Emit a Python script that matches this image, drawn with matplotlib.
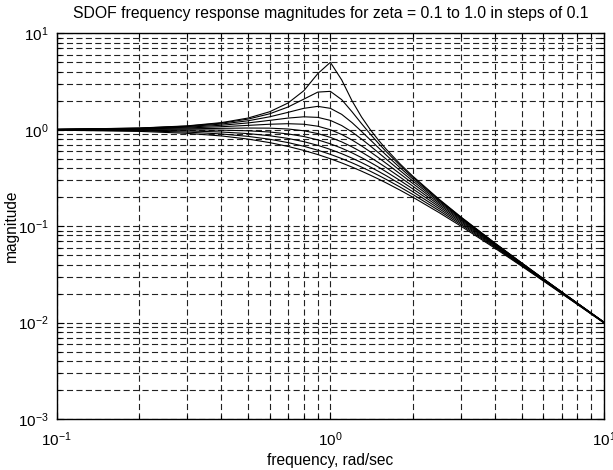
import matplotlib
matplotlib.use("Agg")
import matplotlib.pyplot as plt
from matplotlib.ticker import LogLocator, NullFormatter

plt.rcParams['font.family'] = ['Liberation Sans', 'DejaVu Sans']
plt.rcParams['mathtext.default'] = 'regular'

title = "SDOF frequency response magnitudes for zeta = 0.1 to 1.0 in steps of 0.1"
xlabel = "frequency, rad/sec"
ylabel = "magnitude"

zetas = [0.1, 0.2, 0.3, 0.4, 0.5, 0.6, 0.7, 0.8, 0.9, 1.0]

freq = [0.1, 0.2, 0.3, 0.4, 0.5, 0.6, 0.7, 0.8, 0.9, 1.0, 1.1, 1.2, 1.3,
        1.4, 1.5, 1.6, 1.8, 2.0, 2.5, 3.0, 4.0, 5.0, 6.0, 8.0, 10.0]

mag_z01 = [1.0099, 1.0408, 1.0965, 1.1851, 1.3216, 1.5357, 1.8908, 2.5384, 3.8208, 5.0,
           3.2880, 1.9952, 1.3562, 1.0, 0.7779, 0.6279, 0.4408, 0.3304, 0.1896, 0.12465,
           0.06657, 0.04163, 0.02855, 0.015868, 0.010099]
mag_z02 = [1.0093, 1.0381, 1.0895, 1.1695, 1.2883, 1.4630, 1.7188, 2.0761, 2.4566, 2.5,
           2.0511, 1.5357, 1.1574, 0.8998, 0.7212, 0.5931, 0.4250, 0.3221, 0.1871, 0.12362,
           0.06629, 0.04152, 0.02850, 0.015853, 0.010093]
mag_z03 = [1.0083, 1.0336, 1.0780, 1.1447, 1.2380, 1.3618, 1.5136, 1.6667, 1.7469, 1.6667,
           1.4438, 1.1851, 0.9603, 0.7839, 0.6492, 0.5459, 0.4021, 0.3095, 0.1831, 0.12195,
           0.06583, 0.04134, 0.02842, 0.015827, 0.010083]
mag_z04 = [1.0068, 1.0275, 1.0626, 1.1125, 1.1765, 1.25, 1.3203, 1.3618, 1.3429, 1.25,
           1.1053, 0.9469, 0.8012, 0.6779, 0.5771, 0.4956, 0.3755, 0.2941, 0.1780, 0.11973,
           0.06520, 0.04110, 0.02831, 0.015792, 0.010068]
mag_z05 = [1.0050, 1.0198, 1.0436, 1.0748, 1.1094, 1.1399, 1.1546, 1.1399, 1.0871, 1.0,
           0.8930, 0.7824, 0.6795, 0.5891, 0.5121, 0.4475, 0.3480, 0.2774, 0.1720, 0.11704,
           0.06442, 0.04079, 0.02816, 0.015747, 0.010050]
mag_z06 = [1.0028, 1.0106, 1.0218, 1.0336, 1.0412, 1.0381, 1.0176, 0.9753, 0.9119, 0.8333,
           0.7482, 0.6641, 0.5862, 0.5168, 0.4563, 0.4042, 0.3214, 0.2603, 0.1654, 0.11399,
           0.06350, 0.04042, 0.02799, 0.015692, 0.010028]
mag_z07 = [1.0002, 1.0, 0.9978, 0.9905, 0.9747, 0.9469, 0.9052, 0.8500, 0.7848, 0.7143,
           0.6434, 0.5758, 0.5138, 0.4582, 0.4092, 0.3663, 0.2966, 0.2437, 0.1585, 0.11067,
           0.06246, 0.04, 0.02778, 0.015628, 0.010002]
mag_z08 = [0.9972, 0.9882, 0.9720, 0.9469, 0.9119, 0.8667, 0.8126, 0.7521, 0.6885, 0.625,
           0.5642, 0.5077, 0.4563, 0.4103, 0.3696, 0.3336, 0.2741, 0.2280, 0.1515, 0.10719,
           0.06132, 0.03953, 0.02755, 0.015555, 0.009972]
mag_z09 = [0.9938, 0.9753, 0.9450, 0.9039, 0.8536, 0.7966, 0.7357, 0.6737, 0.6131, 0.5556,
           0.5022, 0.4537, 0.4099, 0.3708, 0.3361, 0.3053, 0.2539, 0.2134, 0.1446, 0.10361,
           0.06010, 0.03901, 0.02730, 0.015474, 0.009938]
mag_z10 = [0.9901, 0.9615, 0.9174, 0.8621, 0.8, 0.7353, 0.6711, 0.6098, 0.5525, 0.5,
           0.4525, 0.4098, 0.3717, 0.3378, 0.3077, 0.2809, 0.2358, 0.2, 0.1379, 0.1,
           0.05882, 0.03846, 0.02703, 0.015385, 0.009901]

mags = [mag_z01, mag_z02, mag_z03, mag_z04, mag_z05,
        mag_z06, mag_z07, mag_z08, mag_z09, mag_z10]

fig = plt.figure(figsize=(6.13, 4.70), dpi=100)
ax = fig.add_axes([56.7 / 613, 1 - 419 / 470, (604 - 56.7) / 613, (419 - 33.3) / 470])

for z, m in zip(zetas, mags):
    ax.plot(freq, m, color='black', lw=0.8)

ax.set_xscale('log')
ax.set_yscale('log')
ax.set_xlim(0.1, 10)
ax.set_ylim(1e-3, 10)

ax.xaxis.set_minor_locator(LogLocator(base=10, subs=range(2, 10)))
ax.yaxis.set_minor_locator(LogLocator(base=10, subs=range(2, 10)))
ax.xaxis.set_minor_formatter(NullFormatter())
ax.yaxis.set_minor_formatter(NullFormatter())

grid_kw = dict(color='#222222', linestyle=(0, (5.5, 3)), linewidth=0.8)
ax.grid(True, which='major', **grid_kw)
ax.grid(True, which='minor', **grid_kw)

ax.tick_params(which='both', direction='in', top=True, right=True, labelsize=11, colors='black')
ax.tick_params(which='major', length=5, width=0.8)
ax.tick_params(which='minor', length=3, width=0.8)
ax.tick_params(axis='x', pad=8)
ax.tick_params(axis='y', pad=6)
for s in ax.spines.values():
    s.set_linewidth(1.0)
    s.set_color('black')

ax.set_title(title, fontsize=11.3, pad=11)
ax.set_xlabel(xlabel, fontsize=11.2, labelpad=3)
ax.set_ylabel(ylabel, fontsize=11.2)
ax.yaxis.set_label_coords(-0.069, 0.5)

fig.savefig("out.png", dpi=100)
